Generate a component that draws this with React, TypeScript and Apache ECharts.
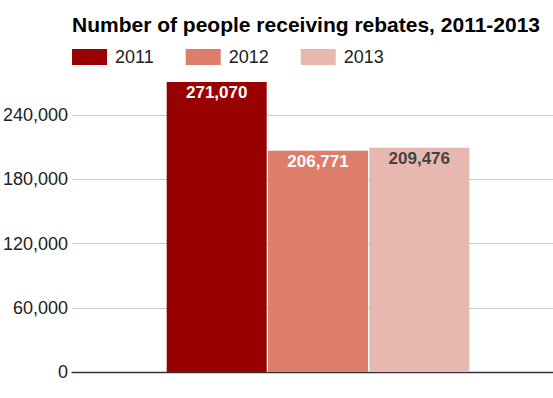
import React, { useEffect, useRef } from "react";
import * as echarts from "echarts";

const categories = [""];
const years = ["2011", "2012", "2013"];
const values2011 = [271070];
const values2012 = [206771];
const values2013 = [209476];
const yTicks = [0, 60000, 120000, 180000, 240000, 300000];

const colors = ["#990000", "#dd7e6b", "#e6b8af"];
const labelColors = ["#ffffff", "#ffffff", "#444444"];

export default function App() {
  const ref = useRef<HTMLDivElement>(null);
  useEffect(() => {
    if (!ref.current) return;
    const chart = echarts.init(ref.current, undefined, { renderer: "svg" });
    const seriesData = [values2011, values2012, values2013];
    const fmt = (v: number) => v.toLocaleString("en-US");
    const ff = "Liberation Sans, Arial, sans-serif";
    chart.setOption({
      animation: false,
      textStyle: { fontFamily: ff },
      title: {
        text: "Number of people receiving rebates, 2011-2013",
        left: 72,
        top: 14,
        padding: 0,
        textStyle: { fontSize: 21, fontWeight: "bold", color: "#000", fontFamily: ff },
      },
      legend: {
        data: years,
        left: 72,
        top: 48,
        padding: 0,
        itemWidth: 35,
        itemHeight: 16,
        itemGap: 32,
        icon: "rect",
        textStyle: { fontSize: 18, color: "#222", padding: [0, 0, 0, 3], fontFamily: ff },
      },
      grid: { left: 72, width: 492, top: 51, bottom: 26, containLabel: false, outerBoundsMode: "none" },
      xAxis: {
        type: "category",
        data: categories,
        axisLine: { lineStyle: { color: "#333", width: 1.3 } },
        axisTick: { show: false },
        axisLabel: { show: false },
      },
      yAxis: {
        type: "value",
        min: yTicks[0],
        max: yTicks[yTicks.length - 1],
        interval: 60000,
        axisLine: { show: false },
        axisTick: { show: false },
        axisLabel: {
          showMaxLabel: false,
          fontSize: 18,
          color: "#222",
          margin: 4,
          formatter: (v: number) => fmt(v),
        },
        splitLine: {
          lineStyle: { color: ["#cccccc", "#cccccc", "#cccccc", "#cccccc", "#cccccc", "rgba(0,0,0,0)"] },
        },
      },
      series: years.map((y, i) => ({
        name: y,
        type: "bar",
        data: seriesData[i],
        barWidth: 100,
        barGap: "1.3%",
        itemStyle: { color: colors[i] },
        label: {
          show: true,
          position: "insideTop",
          distance: 2,
          fontSize: 17,
          fontWeight: "bold",
          color: labelColors[i],
          formatter: (p: any) => fmt(p.value),
        },
      })),
    });
    return () => chart.dispose();
  }, []);
  return <div ref={ref} style={{ width: 553, height: 398, position: "absolute", left: 0, top: 0 }} />;
}
